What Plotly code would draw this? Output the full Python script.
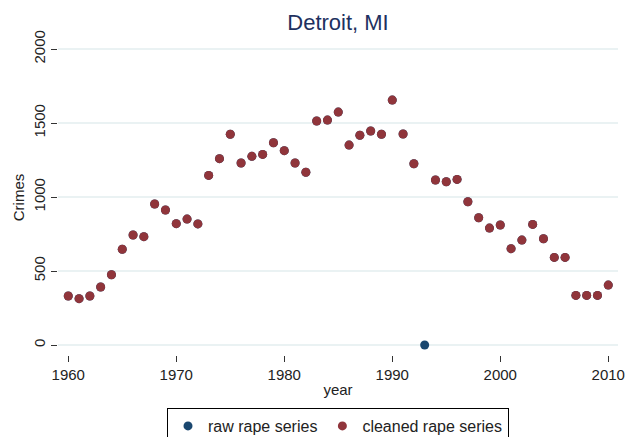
import plotly.graph_objects as go

years = list(range(1960, 2011))
cleaned = [331, 313, 331, 392, 475, 647, 743, 732, 953, 912,
           820, 851, 818, 1146, 1259, 1424, 1230, 1275, 1288, 1367,
           1313, 1230, 1167, 1514, 1520, 1574, 1351, 1417, 1446, 1424,
           1655, 1426, 1225, None, 1115, 1103, 1119, 968, 860, 790,
           811, 651, 709, 815, 718, 592, 592, 335, 335, 335,
           405]
raw = [c if c is not None else 0 for c in cleaned]

x_ticks = [1960, 1970, 1980, 1990, 2000, 2010]
y_ticks = [0, 500, 1000, 1500, 2000]

FONT = "Liberation Sans, Arial, sans-serif"

fig = go.Figure()
fig.add_trace(go.Scatter(x=years, y=raw, mode="markers", name="raw rape series",
                         marker=dict(color="#1a476f", size=9)))
fig.add_trace(go.Scatter(x=years, y=cleaned, mode="markers", name="cleaned rape series",
                         marker=dict(color="#90353b", size=9)))

fig.update_layout(
    width=639, height=437,
    margin=dict(l=50, r=29, t=32, b=90),
    paper_bgcolor="white", plot_bgcolor="white",
    font=dict(family=FONT, size=15, color="#222222"),
    title=dict(text="Detroit, MI", x=0.5, xref="paper", xanchor="center",
               y=0.967, yanchor="middle",
               font=dict(family=FONT, size=22, color="#1e3160")),
    showlegend=True,
    legend=dict(orientation="h", x=0.5, xanchor="center", xref="paper",
                y=0.0847, yanchor="top", yref="container",
                bordercolor="black", borderwidth=1, bgcolor="white",
                font=dict(family=FONT, size=16, color="#222222"),
                itemwidth=30, traceorder="normal"),
)
fig.update_xaxes(range=[1959.05, 2010.9], tickvals=x_ticks, ticks="outside", ticklen=6,
                 tickcolor="#333333", showgrid=False, zeroline=False, showline=False,
                 automargin=False,
                 title=dict(text="year", standoff=2, font=dict(size=15)),
                 tickfont=dict(size=15))
fig.update_yaxes(range=[-67.6, 2061], tickvals=y_ticks, ticks="outside", ticklen=6,
                 tickcolor="#333333", showgrid=True, gridcolor="#eaf2f3", gridwidth=1.5,
                 zeroline=False, showline=False, tickangle=-90, automargin=False,
                 title=dict(text="Crimes", standoff=2, font=dict(size=15)),
                 tickfont=dict(size=15))

fig.write_html("out.html")
